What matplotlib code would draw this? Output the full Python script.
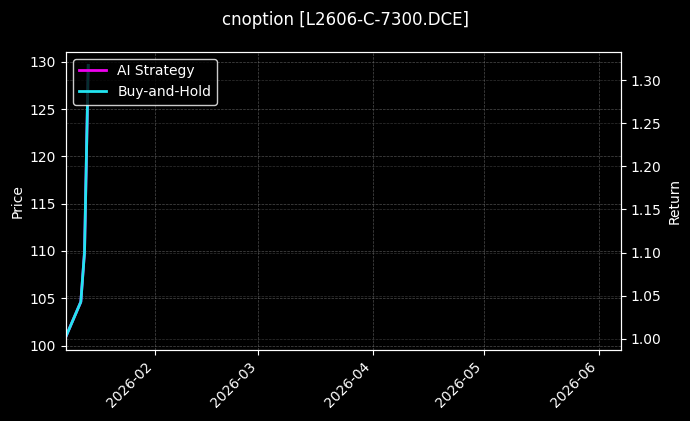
import matplotlib
matplotlib.use("Agg")
import matplotlib.pyplot as plt
import matplotlib.dates as mdates
import pandas as pd

# data
dates = pd.to_datetime(["2026-01-08", "2026-01-12", "2026-01-13", "2026-01-14"])
price = [100.98, 104.6, 109.9, 129.62]
ai_return = [1.003, 1.043, 1.101, 1.317]
bh_return = [1.003, 1.043, 1.101, 1.317]
x_range = pd.to_datetime(["2026-01-08", "2026-06-07"])

title = "cnoption [L2606-C-7300.DCE]"
CYAN = "#22e4f0"
MAGENTA = "#ee00ee"

plt.style.use("dark_background")
fig, ax1 = plt.subplots(figsize=(6.9, 4.21), dpi=100)
fig.subplots_adjust(left=0.0957, right=0.9, top=0.877, bottom=0.169)

ax1.plot(dates, price, color=CYAN, linewidth=1.5)
ax1.set_ylabel("Price")
ax1.grid(True, linestyle="--", linewidth=0.5, color="gray", alpha=0.6)

ax2 = ax1.twinx()
ax2.plot(dates, ai_return, color=MAGENTA, linewidth=2, label="AI Strategy")
ax2.plot(dates, bh_return, color=CYAN, linewidth=2, label="Buy-and-Hold")
ax2.set_ylabel("Return")
ax2.grid(True, axis="y", linestyle="--", linewidth=0.5, color="gray", alpha=0.4)

ax1.set_xlim(x_range[0], x_range[1])
ax1.xaxis.set_major_locator(mdates.MonthLocator())
ax1.xaxis.set_major_formatter(mdates.DateFormatter("%Y-%m"))
for lbl in ax1.get_xticklabels():
    lbl.set_rotation(45)
    lbl.set_ha("right")

leg = ax2.legend(loc="upper left", facecolor="black", edgecolor="white", framealpha=0.8)

fig.suptitle(title, fontsize=12, y=0.975)
fig.savefig("out.png", facecolor="black")
